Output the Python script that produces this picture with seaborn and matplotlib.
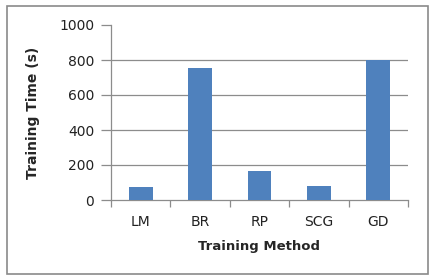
import matplotlib
matplotlib.use("Agg")
import matplotlib.pyplot as plt
import seaborn as sns
import pandas as pd
from matplotlib.patches import Rectangle

methods = ["LM", "BR", "RP", "SCG", "GD"]
times = [74, 752, 166, 80, 802]
yticks = [0, 200, 400, 600, 800, 1000]

sns.set_theme(style="white")
plt.rcParams['font.family'] = ['DejaVu Sans']

df = pd.DataFrame({"Method": methods, "Time": times})

fig = plt.figure(figsize=(4.34, 2.8), dpi=100)
ax = fig.add_axes([111/434, 1-200/280, (408-111)/434, (200-25)/280])

sns.barplot(data=df, x="Method", y="Time", color="#4F81BD", width=0.4,
            saturation=1, linewidth=0, ax=ax, zorder=3)

ax.set_ylim(0, 1000)
ax.set_xlim(-0.5, len(methods) - 0.5)
ax.set_yticks(yticks)
ax.set_yticklabels([str(v) for v in yticks], fontsize=10, color="#222222")
for v in yticks[1:-1]:
    ax.axhline(v, color="#8c8c8c", lw=0.9, zorder=1)

ax.set_xticks(range(len(methods)))
ax.set_xticklabels(methods, fontsize=10, color="#222222")
ax.set_xticks([i - 0.5 for i in range(len(methods) + 1)], minor=True)
ax.tick_params(axis="x", which="major", length=0, pad=11)
ax.tick_params(axis="x", which="minor", length=5, color="#8c8c8c", width=0.9, direction="out", bottom=True)
ax.tick_params(axis="y", length=7, color="#8c8c8c", width=0.9, direction="out", left=True, pad=5)

for s in ["top", "right"]:
    ax.spines[s].set_visible(False)
for s in ["left", "bottom"]:
    ax.spines[s].set_color("#8c8c8c")
    ax.spines[s].set_linewidth(0.9)

ax.set_xlabel("Training Method", fontsize=9.5, fontweight="bold", labelpad=8)
ax.set_ylabel("Training Time (s)", fontsize=10, fontweight="bold", labelpad=14)

fig.patches.append(Rectangle((7/434, 1-274/280), 421/434, 268/280,
                             transform=fig.transFigure, fill=False,
                             edgecolor="#8a8a8a", lw=1.2))

fig.savefig("out.png", dpi=100)
